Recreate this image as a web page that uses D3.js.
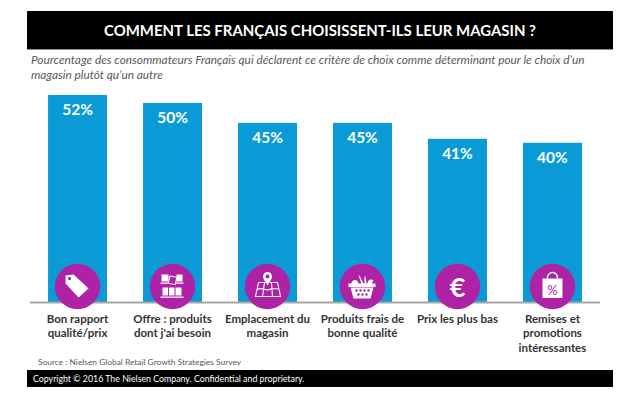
<!DOCTYPE html>
<html>
<head>
<meta charset="utf-8">
<script src="https://cdn.jsdelivr.net/npm/d3@7"></script>
<style>
    html, body { margin: 0; padding: 0; background: #fff; }
    svg { display: block; }
    text { font-family: Lato, "Open Sans", sans-serif; }
</style>
</head>
<body>
<div id="chart"></div>
<script>
'use strict';

// Values
const categories = ['prix', 'offre', 'emplacement', 'frais', 'bas', 'remises'];
const values = [52, 50, 45, 45, 41, 40];
const labels = [
    ['Bon rapport', 'qualité/prix'],
    ['Offre : produits', "dont j'ai besoin"],
    ['Emplacement du', 'magasin'],
    ['Produits frais de', 'bonne qualité'],
    ['Prix les plus bas'],
    ['Remises et', 'promotions', 'intéressantes']
];
const subtitleLines = [
    'Pourcentage des consommateurs Français qui déclarent ce critère de choix comme déterminant pour le choix d’un',
    'magasin plutôt qu’un autre'
];

const palette = { bar: '#0a9bd6', icon: '#ae22a6', axis: '#a6a6a6', label: '#333333', sub: '#595959' };

const width = 621, height = 393;

const svg = d3.select('#chart').append('svg')
    .attr('width', width)
    .attr('height', height);

// Header band
svg.append('rect').attr('x', 27).attr('y', 11).attr('width', 586).attr('height', 39).attr('fill', '#8c8c8c');
svg.append('rect').attr('x', 27).attr('y', 11).attr('width', 586).attr('height', 38).attr('fill', '#000');
svg.append('text')
    .attr('x', 320).attr('y', 35.5)
    .attr('text-anchor', 'middle')
    .attr('fill', '#fff')
    .style('font-size', '14.95px')
    .style('font-weight', 700)
    .text('COMMENT LES FRANÇAIS CHOISISSENT-ILS LEUR MAGASIN ?');

svg.selectAll('text.subtitle')
    .data(subtitleLines)
    .join('text')
    .classed('subtitle', true)
    .attr('x', 31)
    .attr('y', (d, i) => 64 + i * 14.5)
    .attr('fill', palette.sub)
    .style('font-size', '11.85px')
    .style('font-style', 'italic')
    .text(d => d);

// Scales
const scaleX = d3.scaleBand()
    .domain(categories)
    .range([30, 600])
    .paddingInner(0.379)
    .paddingOuter(0.19);

const scaleY = d3.scaleLinear()
    .domain([0, 52])
    .range([302, 95]);

const chart = svg.append('g');

chart.selectAll('rect.bar')
    .data(categories)
    .join('rect')
    .classed('bar', true)
    .attr('x', d => scaleX(d))
    .attr('y', (d, i) => scaleY(values[i]))
    .attr('width', scaleX.bandwidth())
    .attr('height', (d, i) => scaleY(0) - scaleY(values[i]))
    .attr('fill', palette.bar);

chart.append('line')
    .attr('x1', 30).attr('x2', 600)
    .attr('y1', scaleY(0) + 0.5).attr('y2', scaleY(0) + 0.5)
    .attr('stroke', palette.axis)
    .attr('stroke-width', 2);

chart.selectAll('text.value')
    .data(categories)
    .join('text')
    .classed('value', true)
    .attr('x', d => scaleX(d) + scaleX.bandwidth() / 2)
    .attr('y', (d, i) => scaleY(values[i]) + 20)
    .attr('text-anchor', 'middle')
    .attr('fill', '#fff')
    .style('font-size', '15.5px')
    .style('font-weight', 700)
    .text((d, i) => `${values[i]}%`);

// Icon discs, each glyph drawn in its own little box centred on the disc
const icons = chart.selectAll('g.icon')
    .data(categories)
    .join('g')
    .classed('icon', true)
    .attr('transform', d => `translate(${scaleX(d) + scaleX.bandwidth() / 2}, 286.5)`);

icons.append('circle').attr('r', 22.7).attr('fill', palette.icon);

const glyphs = {
    prix(g) {
        g.append('path').attr('fill', '#fff').attr('fill-rule', 'evenodd')
            .attr('d', 'M-12,-11 L-4,-12 L11,2 L1,11 L-12,-3 Z M-8,-9.5 a1.6,1.6 0 1,0 0.01,0 Z');
    },
    offre(g) {
        g.append('path').attr('fill', '#fff')
            .attr('d', 'M-11,-12 h7 v7 h-7 Z M4,-12 h6 v7 h-6 Z M-12,-4 h23 v1.2 h-23 Z M-10,1 h5.5 v8 h-5.5 Z M-3.5,1 h5.5 v8 h-5.5 Z M3,1 h6 v8 h-6 Z M-12,10 h23 v1.2 h-23 Z');
        g.append('path').attr('fill', palette.icon).attr('stroke', '#fff').attr('stroke-width', 0.9)
            .attr('transform', 'rotate(12 0 -6)')
            .attr('d', 'M-3.5,-10 h7 v7.5 h-7 Z');
    },
    emplacement(g) {
        g.append('path').attr('fill', 'none').attr('stroke', '#fff').attr('stroke-width', 1.1)
            .attr('d', 'M-9,-4 L10,-4 L13,10 L-12,10 Z M-3,-4 L-5,10 M4,-4 L5,10 M-10,3 C-5,0 -2,5 2,3 C5,1 8,3 11,2');
        g.append('path').attr('fill', palette.icon).attr('stroke', palette.icon).attr('stroke-width', 1)
            .attr('d', 'M0,-1 C-2,-5 -4,-6.5 -4,-9 A4,4 0 1,1 4,-9 C4,-6.5 2,-5 0,-1 Z');
        g.append('path').attr('fill', '#fff').attr('fill-rule', 'evenodd')
            .attr('d', 'M0,-1 C-2,-5 -4.5,-7 -4.5,-10 A4.5,4.5 0 1,1 4.5,-10 C4.5,-7 2,-5 0,-1 Z M0,-12 a2,2 0 1,0 0.01,0 Z');
    },
    frais(g) {
        g.append('path').attr('fill', '#fff')
            .attr('d', 'M-14,-3 H13 V0.5 H-14 Z M-12,1 H11 L8,12 H-9 Z M-11,-3 C-11,-7 -5,-8 -4,-3 Z M-1,-3 L-4,-11 L-3,-11 L1,-3 Z M2,-3 L2,-10 L3,-10 L4,-3 Z M5,-3 C5,-7 9,-8 11,-6 L9,-3 Z');
        g.append('g').attr('fill', palette.icon)
            .selectAll('circle')
            .data([[-6, 4], [-2, 4], [2, 4], [6, 4], [-4, 8], [0, 8], [4, 8]])
            .join('circle')
            .attr('cx', d => d[0]).attr('cy', d => d[1]).attr('r', 1.2);
    },
    bas(g) {
        g.append('text')
            .attr('text-anchor', 'middle').attr('y', 10)
            .attr('fill', '#fff')
            .style('font-size', '27px').style('font-weight', 700)
            .text('€');
    },
    remises(g) {
        g.append('path').attr('fill', '#fff').attr('d', 'M-10,-8 H10 V11.5 H-10 Z');
        g.append('path').attr('fill', 'none').attr('stroke', '#fff').attr('stroke-width', 1.4)
            .attr('d', 'M-5,-8 V-9 A5,5 0 0,1 5,-9 V-8');
        g.append('text')
            .attr('text-anchor', 'middle').attr('y', 8.5)
            .attr('fill', palette.icon)
            .style('font-size', '13px')
            .text('%');
    }
};

icons.each(function (d) { glyphs[d](d3.select(this)); });

// Category labels
chart.selectAll('text.cat')
    .data(categories)
    .join('text')
    .classed('cat', true)
    .attr('x', d => scaleX(d) + scaleX.bandwidth() / 2)
    .attr('y', 322.5)
    .attr('text-anchor', 'middle')
    .attr('fill', palette.label)
    .style('font-size', '11.5px')
    .style('font-weight', 700)
    .selectAll('tspan')
    .data((d, i) => labels[i])
    .join('tspan')
    .attr('x', function () { return d3.select(this.parentNode).attr('x'); })
    .attr('dy', (d, i) => i ? 14.7 : 0)
    .text(d => d);

// Source and footer
svg.append('text')
    .attr('x', 38).attr('y', 364.5)
    .attr('fill', '#595959')
    .style('font-size', '8.4px')
    .text('Source : Nielsen Global Retail Growth Strategies Survey');

svg.append('rect').attr('x', 27).attr('y', 370).attr('width', 586).attr('height', 17).attr('fill', '#000');
svg.append('text')
    .attr('x', 33).attr('y', 382)
    .attr('fill', '#fff')
    .style('font-size', '8.8px')
    .text('Copyright © 2016 The Nielsen Company. Confidential and proprietary.');
</script>
</body>
</html>
